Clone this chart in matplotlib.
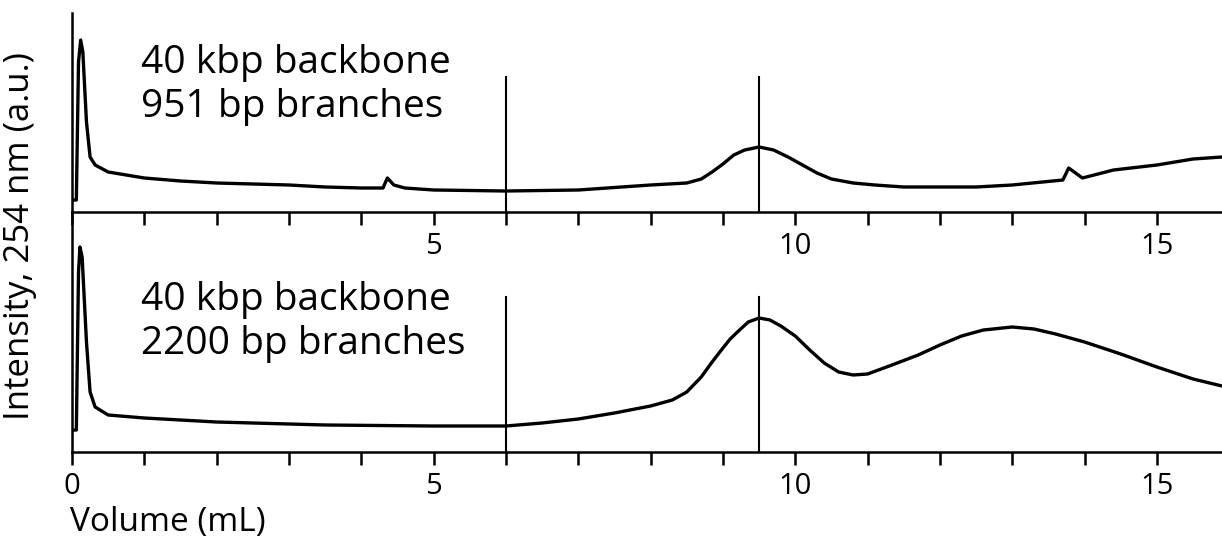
import matplotlib
matplotlib.use("Agg")
import matplotlib.pyplot as plt

plt.rcParams['font.family'] = ['Open Sans', 'DejaVu Sans']

# volume (mL) and intensity (a.u.)
vol_top = [0, 0.06, 0.09, 0.12, 0.15, 0.2, 0.25, 0.32, 0.5, 1.0, 1.5, 2.0, 3.0, 3.5, 4.0,
           4.3, 4.36, 4.45, 4.6, 5.0, 6.0, 7.0, 8.0, 8.5, 8.7, 8.85, 9.0, 9.15, 9.3, 9.5,
           9.7, 9.9, 10.1, 10.3, 10.5, 10.8, 11.1, 11.5, 12.5, 13.0, 13.7, 13.78, 13.97,
           14.4, 15.0, 15.5, 15.9]
int_top = [12, 12, 150, 172, 160, 90, 55, 47, 40, 34, 31, 29, 27, 25, 24,
           24, 34, 27, 24, 22, 21, 22, 27, 29, 33, 40, 48, 57, 62, 65,
           62, 55, 47, 39, 33, 29, 27, 25, 25, 27, 32, 44, 34,
           42, 47, 53, 55]

vol_bot = [0, 0.06, 0.09, 0.11, 0.14, 0.2, 0.25, 0.32, 0.5, 1.0, 2.0, 3.0, 3.5, 5.0, 6.0,
           6.5, 7.0, 7.5, 8.0, 8.3, 8.5, 8.7, 8.85, 9.0, 9.1, 9.2, 9.35, 9.5, 9.65, 9.8,
           10.0, 10.2, 10.4, 10.6, 10.8, 11.0, 11.3, 11.7, 12.0, 12.3, 12.6, 13.0, 13.3,
           13.6, 14.0, 14.5, 15.0, 15.5, 15.9]
int_bot = [22, 22, 180, 205, 195, 110, 60, 45, 37, 34, 30, 28, 27, 26, 26,
           29, 33, 39, 46, 52, 60, 75, 90, 104, 113, 120, 130, 134, 132, 126,
           116, 102, 89, 80, 77, 78, 86, 97, 107, 116, 122, 125, 123,
           118, 110, 98, 85, 73, 66]

marker_vols = [6, 9.5]
labels_top = ["40 kbp backbone", "951 bp branches"]
labels_bot = ["40 kbp backbone", "2200 bp branches"]

fig = plt.figure(figsize=(12.22, 5.42), dpi=100)
W, H = 1222, 542
x0 = 72 / W
ax1 = fig.add_axes([x0, (H - 212) / H, 1 - x0, (212 - 13) / H])
ax2 = fig.add_axes([x0, (H - 452) / H, 1 - x0, (452 - 212) / H])

def style(ax, ymax, zero_label):
    ax.set_xlim(0, 15.9)
    ax.set_ylim(0, ymax)
    ax.spines['top'].set_visible(False)
    ax.spines['right'].set_visible(False)
    ax.spines['left'].set_linewidth(1.8)
    ax.spines['bottom'].set_linewidth(1.8)
    ax.set_yticks([])
    ax.set_xticks(range(0, 16))
    ax.set_xticklabels([("0" if zero_label else "") if i == 0 else (str(i) if i % 5 == 0 else "")
                        for i in range(0, 16)])
    ax.tick_params(axis='x', direction='out', length=9.5, width=1.8, pad=5, labelsize=21)
    ax.patch.set_alpha(0)

ax1.plot(vol_top, int_top, color='black', lw=2.4, solid_joinstyle='round')
ax2.plot(vol_bot, int_bot, color='black', lw=2.4, solid_joinstyle='round')
for v in marker_vols:
    ax1.plot([v, v], [0, 135], color='black', lw=1.5)
    ax2.plot([v, v], [0, 155], color='black', lw=1.5)

style(ax1, 199, False)
style(ax2, 240, True)

ax1.text(0.95, 127, labels_top[0] + "\n" + labels_top[1], fontsize=28,
         va='center', ha='left', linespacing=1.2)
ax2.text(0.95, 130, labels_bot[0] + "\n" + labels_bot[1], fontsize=28,
         va='center', ha='left', linespacing=1.2)

fig.text(20 / W, 1 - 236 / H, "Intensity, 254 nm (a.u.)", rotation=90,
         fontsize=25, ha='center', va='center')
fig.text(70 / W, 1 - 522 / H, "Volume (mL)", fontsize=24, ha='left', va='center')

fig.savefig("out.png", dpi=100)
